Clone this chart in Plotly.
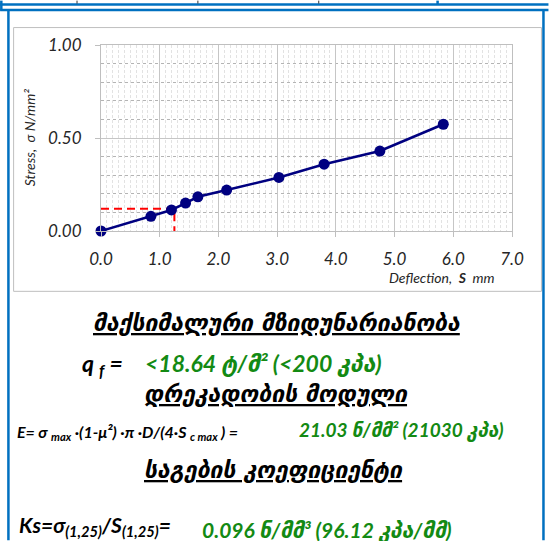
import plotly.graph_objects as go

# ---------------- data ----------------
deflection = [0.0, 0.85, 1.20, 1.44, 1.65, 2.14, 3.03, 3.80, 4.75, 5.83]
stress = [0.0, 0.079, 0.113, 0.150, 0.184, 0.220, 0.288, 0.359, 0.430, 0.574]
ref_S = 1.25
ref_sigma = 0.12
x_ticks = [0, 1, 2, 3, 4, 5, 6, 7]
y_ticks = [0.0, 0.5, 1.0]

title1 = "მაქსიმალური მზიდუნარიანობა"
title2 = "დრეკადობის მოდული"
title3 = "საგების კოეფიციენტი"
q_label = "q <sub>f</sub> ="
q_value = "&lt;18.64 ტ/მ² (&lt;200 კპა)"
e_label = "E= σ <sub>max</sub> ·(1-μ²) ·π ·D/(4·S <sub>c max</sub> ) ="
e_value = "21.03 ნ/მმ² (21030 კპა)"
k_label = "Ks=σ<sub>(1,25)</sub>/S<sub>(1,25)</sub>="
k_value = "0.096 ნ/მმ³ (96.12 კპა/მმ)"

# ---------------- layout geometry (pixels) ----------------
W_PX, H_PX = 549, 541
L, R, T, B = 101, 512.5, 44.5, 231
PW, PH = R - L, B - T


def fx(px):
    return (px - L) / PW


def fy(py):
    return (B - py) / PH


GREEN = "#138a13"
BLUE = "#0070C0"
NAVY = "#000080"
FONT = "Lato, DejaVu Sans, sans-serif"
GEO = "DejaVu Sans, sans-serif"

fig = go.Figure()
fig.add_trace(go.Scatter(
    x=[0, ref_S, ref_S], y=[ref_sigma, ref_sigma, 0],
    mode="lines", line=dict(color="#ff0000", width=2, dash="8px,5px"),
    hoverinfo="skip", cliponaxis=False))
fig.add_trace(go.Scatter(
    x=deflection, y=stress, mode="lines+markers",
    line=dict(color=NAVY, width=2.5),
    marker=dict(color=NAVY, size=11),
    cliponaxis=False))

axis_common = dict(
    showgrid=True, gridcolor="#c6c6c6", gridwidth=1,
    showline=True, linecolor="#bfbfbf", linewidth=1, mirror=True,
    ticks="outside", ticklen=5, tickcolor="#bfbfbf",
    zeroline=False,
    tickfont=dict(family=FONT, size=17, color="#262626", style="italic"),
)
fig.update_xaxes(range=[0, 7], tickvals=x_ticks,
                 ticktext=["<i>%.1f</i>" % v for v in x_ticks],
                 minor=dict(dtick=0.1, showgrid=True, gridcolor="#e2e2e2",
                            griddash="3px,2px", ticks=""),
                 ticklabelstandoff=8, **axis_common)
fig.update_yaxes(range=[0, 1], tickvals=y_ticks,
                 ticktext=["<i>%.2f</i>" % v for v in y_ticks],
                 minor=dict(dtick=0.1, showgrid=True, gridcolor="#b4b4b4",
                            griddash="3px,3px", ticks=""),
                 ticklabelstandoff=10, **axis_common)

shapes = []


def line(x0, y0, x1, y1, color, width):
    shapes.append(dict(type="line", xref="paper", yref="paper",
                       x0=fx(x0), y0=fy(y0), x1=fx(x1), y1=fy(y1),
                       line=dict(color=color, width=width), layer="above"))


# chart frame
shapes.append(dict(type="rect", xref="paper", yref="paper",
                   x0=fx(13.5), y0=fy(27), x1=fx(542), y1=fy(291.5),
                   line=dict(color="#bfbfbf", width=1), layer="below"))
# blue table borders
line(0, 4, 549, 4, BLUE, 2.5)
line(0, 9.5, 549, 9.5, BLUE, 2.5)
line(8.3, 9, 8.3, 541, BLUE, 2.5)
line(544, 9, 544, 541, BLUE, 2.5)
line(1.2, 0, 1.2, 10, BLUE, 2.5)
line(438, 0, 438, 4, BLUE, 2.5)
for xx in [77, 198, 319]:
    line(xx, 0, xx, 3, "#333333", 1)

ann = []


def text(px, py, s, size, color="black", xanchor="center", family=FONT,
         bold=True, italic=True, angle=0):
    if bold:
        s = "<b>" + s + "</b>"
    ann.append(dict(xref="paper", yref="paper", x=fx(px), y=fy(py),
                    text=s, showarrow=False, xanchor=xanchor, yanchor="middle",
                    textangle=angle,
                    font=dict(family=family, size=size, color=color,
                              style="italic" if italic else "normal")))


# axis titles
text(29, 138, "Stress,&nbsp;&nbsp;σ N/mm²", 14, "#262626", bold=False, angle=-90)
ann.append(dict(xref="paper", yref="paper", x=fx(496), y=fy(278),
                text="Deflection,&nbsp;&nbsp;<b>S</b>&nbsp;&nbsp;mm",
                showarrow=False, xanchor="right", yanchor="middle",
                font=dict(family=FONT, size=14, color="#262626", style="italic")))

# text block
text(277, 323, "<u>" + title1 + "</u>", 23, family=GEO)
text(80, 365, q_label, 23, xanchor="left")
text(143, 363, q_value, 23, GREEN, xanchor="left", family=FONT)
text(277, 394, "<u>" + title2 + "</u>", 23, family=GEO)
text(15, 433, e_label, 16, xanchor="left")
text(297, 431, e_value, 19, GREEN, xanchor="left")
text(274, 471, "<u>" + title3 + "</u>", 23, family=GEO)
text(17, 527, k_label, 21, xanchor="left")
text(200, 531, k_value, 21, GREEN, xanchor="left")

fig.update_layout(
    width=W_PX, height=H_PX,
    margin=dict(l=L, r=W_PX - R, t=T, b=H_PX - B, pad=0),
    paper_bgcolor="white", plot_bgcolor="white",
    showlegend=False, shapes=shapes, annotations=ann,
)

fig.write_html("out.html")
